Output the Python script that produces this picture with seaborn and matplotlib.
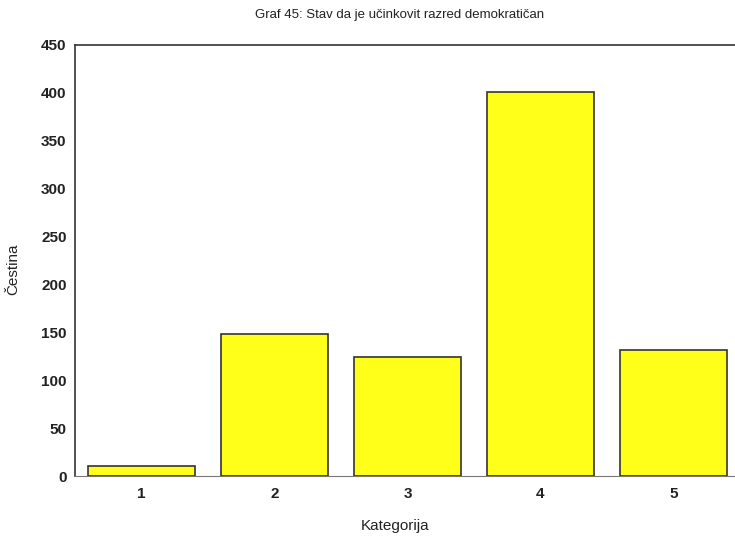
import pandas as pd
import seaborn as sns
import matplotlib.pyplot as plt

categories = ["1", "2", "3", "4", "5"]
counts = [10, 148, 124, 401, 132]

df = pd.DataFrame({"Kategorija": categories, "Cestina": counts})

sns.set_style("white")
plt.rcParams['font.family'] = ['Liberation Sans', 'DejaVu Sans']

fig = plt.figure(figsize=(7.35, 5.38), dpi=100)
ax = fig.add_axes([75 / 735, 62 / 538, 665 / 735, 431 / 538])

sns.barplot(data=df, x="Kategorija", y="Cestina", color="#ffff1a",
            saturation=1, width=0.8, edgecolor="#333333", linewidth=1.2, ax=ax)

ax.set_ylim(0, 450)
ax.set_xlim(-0.5, 4.5)
ax.set_yticks(range(0, 451, 50))
ax.tick_params(axis="y", direction="in", length=3, labelsize=11, pad=6)
ax.tick_params(axis="x", length=0, labelsize=11, pad=8)
for lbl in ax.get_xticklabels() + ax.get_yticklabels():
    lbl.set_fontweight("bold")
    lbl.set_color("#222222")

for side in ["top", "left"]:
    ax.spines[side].set_color("#333333")
    ax.spines[side].set_linewidth(1.2)
ax.spines["bottom"].set_color("#777777")
ax.spines["bottom"].set_linewidth(0.8)
ax.spines["right"].set_visible(False)

ax.set_xlabel("Kategorija", fontsize=11, color="#222222")
ax.set_ylabel("Čestina", fontsize=11, color="#222222")
ax.xaxis.set_label_coords(0.481, -0.100)
ax.yaxis.set_label_coords(-0.082, 0.48)
fig.text(400 / 735, 1 - 15 / 538, "Graf 45: Stav da je učinkovit razred demokratičan",
         ha="center", va="center", fontsize=9.5, color="#222222")

fig.savefig("out.png", dpi=100)
